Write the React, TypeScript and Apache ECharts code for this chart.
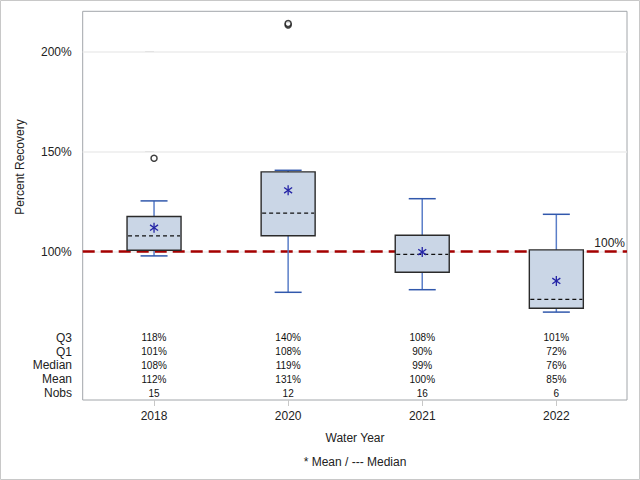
import React, { useEffect, useRef } from "react";
import * as echarts from "echarts";

const years = ["2018", "2020", "2021", "2022"];
const whiskerLow = [97.9, 79.7, 81.0, 69.8];
const q1 = [100.7, 108.0, 89.7, 71.7];
const median = [107.9, 119.3, 98.7, 76.2];
const q3 = [117.6, 139.9, 108.2, 100.9];
const whiskerHigh = [125.4, 140.7, 126.5, 118.7];
const mean = [112.0, 130.7, 99.8, 85.4];
const nobs = [15, 12, 16, 6];
const outliers: [number, number][] = [
  [0, 146.7],
  [1, 213.4],
  [1, 214.1],
];
const yTicks = [100, 150, 200];
const refValue = 100;
const rowLabels = ["Q3", "Q1", "Median", "Mean", "Nobs"];

const FONT = "Liberation Sans, Arial, sans-serif";
const pct = (v: number) => `${Math.round(v)}%`;

export default function App() {
  const ref = useRef<HTMLDivElement>(null);
  useEffect(() => {
    if (!ref.current) return;
    const chart = echarts.init(ref.current, undefined, { renderer: "svg" });

    const boxData = years.map((_, i) => [i, whiskerLow[i], q1[i], median[i], q3[i], whiskerHigh[i]]);
    const meanData = years.map((_, i) => [i, mean[i]]);
    const tableRows = [q3.map(pct), q1.map(pct), median.map(pct), mean.map(pct), nobs.map(String)];
    const rowY = [337.5, 351.5, 365, 379, 393];

    chart.setOption({
      animation: false,
      backgroundColor: "#fff",
      grid: {
        left: 82.7,
        right: 13,
        top: 11.3,
        bottom: 80,
        show: true,
        borderColor: "#A2A6AA",
        borderWidth: 1,
        backgroundColor: "transparent",
      },
      xAxis: {
        type: "value",
        min: -0.532,
        max: 3.527,
        axisLine: { show: false },
        splitLine: { show: false },
        axisTick: { show: true, length: 6, customValues: [0, 1, 2, 3], lineStyle: { color: "#C8C8C8" } },
        axisLabel: {
          customValues: [0, 1, 2, 3],
          formatter: (v: number) => years[Math.round(v)] ?? "",
          color: "#222",
          fontFamily: FONT,
          fontSize: 12,
          margin: 10,
        },
      },
      yAxis: {
        type: "value",
        min: 25.85,
        max: 220.2,
        axisLine: { show: false },
        splitLine: { show: false },
        axisTick: { show: true, length: 9, customValues: yTicks, lineStyle: { color: "#C8C8C8" } },
        axisLabel: {
          customValues: yTicks,
          formatter: (v: number) => `${v}%`,
          color: "#222",
          fontFamily: FONT,
          fontSize: 12,
          margin: 11,
        },
      },
      graphic: [
        {
          type: "rect",
          shape: { x: 0.5, y: 0.5, width: 639, height: 479 },
          style: { fill: "none", stroke: "#C8C8C8", lineWidth: 1 },
          silent: true,
        },
        {
          type: "text",
          x: 20,
          y: 167,
          rotation: Math.PI / 2,
          style: { text: "Percent Recovery", fill: "#222", font: `12px ${FONT}`, align: "center", verticalAlign: "middle" },
        },
        {
          type: "text",
          x: 355,
          y: 438,
          style: { text: "Water Year", fill: "#222", font: `12px ${FONT}`, align: "center", verticalAlign: "middle" },
        },
        {
          type: "text",
          x: 355,
          y: 462,
          style: { text: "* Mean / --- Median", fill: "#222", font: `12px ${FONT}`, align: "center", verticalAlign: "middle" },
        },
        ...rowLabels.map((t, k) => ({
          type: "text",
          x: 72,
          y: rowY[k],
          style: { text: t, fill: "#222", font: `12px ${FONT}`, align: "right", verticalAlign: "middle" },
        })),
      ],
      series: [
        {
          type: "line",
          data: [],
          z: 1,
          silent: true,
          markLine: {
            z: 1,
            silent: true,
            symbol: "none",
            label: { show: false },
            lineStyle: { color: "#ECECEC", width: 1.5, type: "solid" },
            data: yTicks.map((v) => ({ yAxis: v })),
          },
        },
        {
          type: "line",
          data: [],
          z: 2,
          markLine: {
            z: 2,
            silent: true,
            symbol: "none",
            lineStyle: { color: "#A50000", width: 2.5, type: [12, 6] },
            label: {
              show: true,
              position: "insideEndTop",
              formatter: () => `${refValue}%`,
              color: "#222",
              fontFamily: FONT,
              fontSize: 12,
              distance: [2, 3],
            },
            data: [{ yAxis: refValue }],
          },
        },
        {
          type: "custom",
          z: 3,
          data: boxData,
          renderItem: (params: any, api: any) => {
            const x = api.value(0);
            const [cx, yLow] = api.coord([x, api.value(1)]);
            const yQ1 = api.coord([x, api.value(2)])[1];
            const yMed = api.coord([x, api.value(3)])[1];
            const yQ3 = api.coord([x, api.value(4)])[1];
            const yHigh = api.coord([x, api.value(5)])[1];
            const bw = 54;
            const cw = 27;
            return {
              type: "group",
              children: [
                { type: "line", shape: { x1: cx, y1: yHigh, x2: cx, y2: yQ3 }, style: { stroke: "#5A7EC8", lineWidth: 1.5 } },
                { type: "line", shape: { x1: cx, y1: yQ1, x2: cx, y2: yLow }, style: { stroke: "#5A7EC8", lineWidth: 1.5 } },
                { type: "line", shape: { x1: cx - cw / 2, y1: yHigh, x2: cx + cw / 2, y2: yHigh }, style: { stroke: "#3158AC", lineWidth: 1.5 } },
                { type: "line", shape: { x1: cx - cw / 2, y1: yLow, x2: cx + cw / 2, y2: yLow }, style: { stroke: "#3158AC", lineWidth: 1.5 } },
                {
                  type: "rect",
                  shape: { x: cx - bw / 2, y: yQ3, width: bw, height: yQ1 - yQ3 },
                  style: { fill: "#CAD6E6", stroke: "#2A2A2A", lineWidth: 1.4 },
                },
                {
                  type: "line",
                  shape: { x1: cx - bw / 2 + 1, y1: yMed, x2: cx + bw / 2 - 1, y2: yMed },
                  style: { stroke: "#111", lineWidth: 1.2, lineDash: [4, 3] },
                },
              ],
            };
          },
        },
        {
          type: "custom",
          z: 4,
          data: meanData,
          renderItem: (params: any, api: any) => {
            const [cx, cy] = api.coord([api.value(0), api.value(1)]);
            const r = 5;
            const d = r * 0.8;
            const st = { stroke: "#2424A6", lineWidth: 1.3 };
            return {
              type: "group",
              children: [
                { type: "line", shape: { x1: cx, y1: cy - r, x2: cx, y2: cy + r }, style: st },
                { type: "line", shape: { x1: cx - d, y1: cy - d * 0.7, x2: cx + d, y2: cy + d * 0.7 }, style: st },
                { type: "line", shape: { x1: cx - d, y1: cy + d * 0.7, x2: cx + d, y2: cy - d * 0.7 }, style: st },
              ],
            };
          },
        },
        {
          type: "scatter",
          z: 4,
          data: outliers,
          symbol: "circle",
          symbolSize: 6,
          itemStyle: { color: "#fff", borderColor: "#111", borderWidth: 1.5 },
        },
        {
          type: "custom",
          z: 4,
          data: years.map((_, i) => [i, 50]),
          renderItem: (params: any, api: any) => {
            const i = params.dataIndex;
            const cx = api.coord([api.value(0), api.value(1)])[0];
            return {
              type: "group",
              children: tableRows.map((row, k) => ({
                type: "text",
                x: cx,
                y: rowY[k],
                style: { text: row[i], fill: "#111", font: `10px ${FONT}`, align: "center", verticalAlign: "middle" },
              })),
            };
          },
        },
      ],
    });
    return () => chart.dispose();
  }, []);
  return <div ref={ref} style={{ position: "fixed", left: 0, top: 0, width: 640, height: 480 }} />;
}
